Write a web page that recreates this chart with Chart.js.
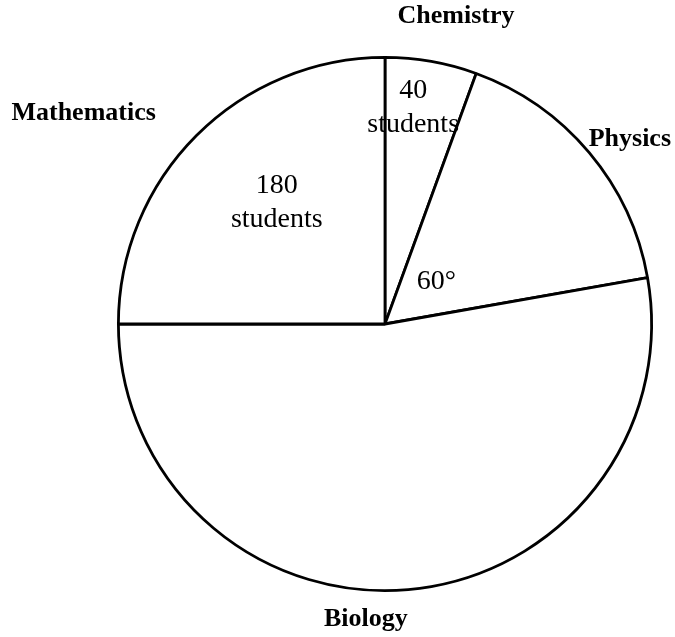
<!DOCTYPE html>
<html lang="en">
<head>
  <meta charset="UTF-8" />
  <title>Students by subject</title>
  <script src="https://cdn.jsdelivr.net/npm/chart.js"></script>
  <style>
    html, body { margin: 0; padding: 0; background: #fff; }
    #wrap { width: 675px; height: 637px; }
  </style>
</head>
<body>
  <div id="wrap">
    <canvas id="subjects" width="675" height="637"></canvas>
  </div>
  <script>
    // number of students per subject, clockwise from 12 o'clock
    const subjects = ['Chemistry', 'Physics', 'Biology', 'Mathematics'];
    const students = [40, 120, 380, 180];

    // text written inside the slices
    const innerTexts = [['40', 'students'], ['60°'], [], ['180', 'students']];

    // where each text sits: angle (deg, clockwise from top) and distance as a share of the radius
    const namePos = [[13, 1.185], [53, 1.15], [183.7, 1.11], [305, 1.38]];
    const innerPos = [[7.4, 0.82], [50.5, 0.25], [0, 0], [318.3, 0.61]];

    const serif = '"Liberation Serif", "Times New Roman", serif';

    const polar = (arc, deg, k) => {
      const a = (deg - 90) * Math.PI / 180;
      return { x: arc.x + Math.cos(a) * arc.outerRadius * k, y: arc.y + Math.sin(a) * arc.outerRadius * k };
    };

    const slideText = {
      id: 'slideText',
      afterDatasetsDraw(chart) {
        const ctx = chart.ctx;
        const arcs = chart.getDatasetMeta(0).data;
        ctx.save();
        ctx.fillStyle = '#000';
        ctx.textAlign = 'center';
        ctx.textBaseline = 'middle';
        arcs.forEach((arc, i) => {
          // subject names around the pie
          let p = polar(arc, namePos[i][0], namePos[i][1]);
          ctx.font = 'bold 26px ' + serif;
          ctx.fillText(subjects[i], p.x, p.y);
          // values inside
          const lines = innerTexts[i];
          if (!lines.length) return;
          p = polar(arc, innerPos[i][0], innerPos[i][1]);
          ctx.font = '28px ' + serif;
          const lh = 34;
          lines.forEach((t, j) => {
            ctx.fillText(t, p.x, p.y + (j - (lines.length - 1) / 2) * lh);
          });
        });
        ctx.restore();
      }
    };

    new Chart(document.getElementById('subjects'), {
      type: 'pie',
      data: {
        labels: subjects,
        datasets: [{
          data: students,
          backgroundColor: '#ffffff',
          borderColor: '#000000',
          borderWidth: 2.8,
          hoverOffset: 0
        }]
      },
      options: {
        responsive: false,
        animation: false,
        layout: { padding: { left: 115, right: 20, top: 56, bottom: 45 } },
        plugins: {
          legend: { display: false },
          tooltip: { enabled: false }
        }
      },
      plugins: [slideText]
    });
  </script>
</body>
</html>
